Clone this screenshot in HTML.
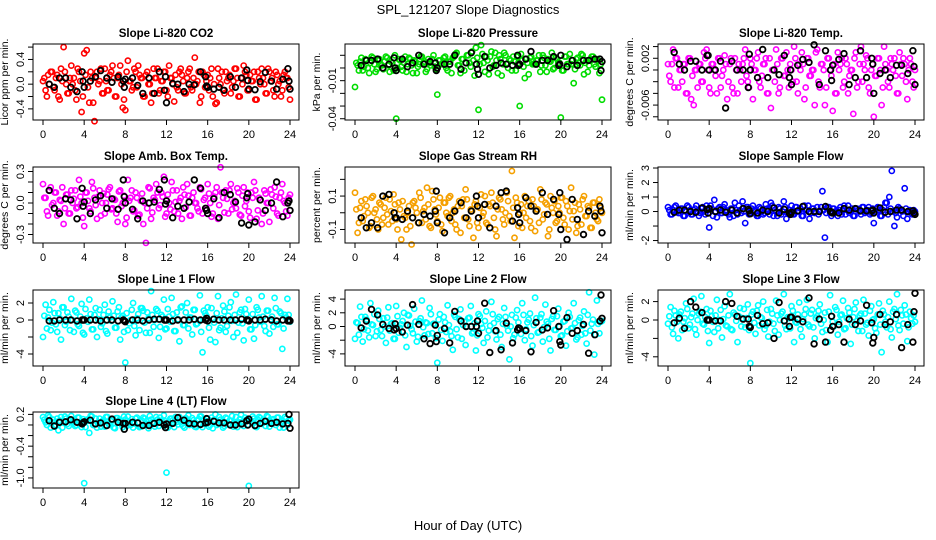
<!DOCTYPE html>
<html><head><meta charset="utf-8"><title>SPL_121207 Slope Diagnostics</title>
<style>
html,body{margin:0;padding:0;background:#fff;}
svg{display:block;font-family:"Liberation Sans",sans-serif;}
</style></head>
<body>
<svg id="chart" width="936" height="540" viewBox="0 0 936 540" xmlns="http://www.w3.org/2000/svg">
<rect x="0" y="0" width="936" height="540" fill="#fff"/>
<text x="468" y="14" text-anchor="middle" font-size="13">SPL_121207  Slope Diagnostics</text>
<text x="468" y="530" text-anchor="middle" font-size="13">Hour of Day (UTC)</text>
</svg>
<script>
const hoursC = [0,0.25,0.5,0.75,1,1.25,1.5,1.75,2,2.25,
2.5,2.75,3,3.25,3.5,3.75,4,4.25,4.5,4.75,
5,5.25,5.5,5.75,6,6.25,6.5,6.75,7,7.25,
7.5,7.75,8,8.25,8.5,8.75,9,9.25,9.5,9.75,
10,10.25,10.5,10.75,11,11.25,11.5,11.75,12,12.25,
12.5,12.75,13,13.25,13.5,13.75,14,14.25,14.5,14.75,
15,15.25,15.5,15.75,16,16.25,16.5,16.75,17,17.25,
17.5,17.75,18,18.25,18.5,18.75,19,19.25,19.5,19.75,
20,20.25,20.5,20.75,21,21.25,21.5,21.75,22,22.25,
22.5,22.75,23,23.25,23.5,23.75,24];
const hoursC2 = [0.125,0.375,0.625,0.875,1.125,1.375,1.625,1.875,2.125,2.375,2.625,2.875,
3.125,3.375,3.625,3.875,4.125,4.375,4.625,4.875,5.125,5.375,5.625,5.875,
6.125,6.375,6.625,6.875,7.125,7.375,7.625,7.875,8.125,8.375,8.625,8.875,
9.125,9.375,9.625,9.875,10.125,10.375,10.625,10.875,11.125,11.375,11.625,11.875,
12.125,12.375,12.625,12.875,13.125,13.375,13.625,13.875,14.125,14.375,14.625,14.875,
15.125,15.375,15.625,15.875,16.125,16.375,16.625,16.875,17.125,17.375,17.625,17.875,
18.125,18.375,18.625,18.875,19.125,19.375,19.625,19.875,20.125,20.375,20.625,20.875,
21.125,21.375,21.625,21.875,22.125,22.375,22.625,22.875,23.125,23.375,23.625,23.875];
const hoursK = [0.6,1.1,1.6,2.2,2.7,3.3,3.8,3.9,4.0,
4.6,5.1,5.6,6.2,6.7,7.3,7.8,7.9,8.0,
8.7,9.2,9.7,10.3,10.8,11.3,11.8,11.9,12.0,
12.6,13.1,13.7,14.2,14.7,15.3,15.8,15.9,16.0,
16.6,17.1,17.6,18.2,18.7,19.3,19.8,19.9,20.0,
20.6,21.1,21.6,22.2,22.7,23.3,23.8,23.9,24.0];
const xTicks = [0,4,8,12,16,20,24];

const co2Slope = [0.05,-0.1,0.15,0.2,-0.05,0.1,-0.2,0.25,0.6,0.0,
-0.15,0.3,0.1,-0.25,0.2,-0.45,0.5,0.55,-0.3,0.1,
-0.6,0.2,0.05,-0.15,0.25,-0.1,0.15,0.3,-0.2,0.1,
0.3,-0.38,-0.42,0.38,0.05,-0.05,0.2,0.3,0.1,-0.2,
0.15,0.0,-0.3,0.25,0.1,-0.15,0.05,0.2,-0.1,0.3,
0.1,-0.28,-0.05,0.2,0.15,-0.15,0.1,0.25,-0.1,0.43,
0.05,-0.3,0.2,-0.05,0.15,0.1,-0.2,-0.32,0.25,0.0,
-0.1,0.2,0.1,-0.15,0.05,0.25,-0.2,0.1,0.3,0.15,
-0.1,0.05,0.2,-0.25,0.1,0.25,0.0,-0.15,0.2,0.1,
-0.2,0.15,0.05,-0.1,0.2,0.1,-0.25];
const co2Slope2 = [0.1,-0.2,0.0,0.2,-0.1,0.15,-0.25,0.05,0.2,-0.15,0.1,0.0,
-0.1,0.25,0.05,-0.2,0.15,-0.05,0.2,-0.3,0.1,0.0,0.25,-0.15,
0.05,-0.1,0.2,0.1,-0.2,0.15,0.0,-0.25,0.2,0.05,-0.1,0.25,
-0.05,0.15,0.1,-0.2,0.2,0.0,-0.15,0.1,0.25,-0.1,0.05,0.2,
-0.2,0.1,0.0,0.15,-0.1,0.25,0.05,-0.15,0.2,-0.05,0.1,0.0,
0.2,-0.2,0.15,0.05,-0.1,0.25,0.0,-0.3,0.1,0.2,-0.15,0.05,
0.15,-0.05,0.25,0.1,-0.2,0.0,0.2,-0.1,0.15,0.05,-0.25,0.2,
0.0,0.1,-0.15,0.25,0.05,-0.1,0.2,0.0,-0.2,0.15,0.1,-0.05];
const co2Black = [0.0,-0.05,0.1,0.1,-0.05,-0.12,0.2,0.05,-0.05,
0.05,0.12,0.22,0.1,0.03,0.12,0.05,-0.05,0.08,
0.1,-0.02,-0.15,0.1,-0.15,0.2,-0.1,0.12,-0.3,
0.01,0.0,-0.12,0.0,-0.01,0.2,0.12,-0.03,-0.05,
-0.08,-0.05,-0.1,0.12,-0.05,0.1,0.23,0.06,-0.08,
-0.09,0.04,0.19,0.05,-0.08,0.08,0.25,0.05,-0.08];

const pressSlope = [-0.015,0.002,0.005,-0.002,0.007,0.0,0.004,0.008,-0.003,0.006,
0.003,-0.001,0.009,0.002,0.005,-0.002,-0.04,0.007,0.001,0.004,
-0.003,0.008,0.002,0.006,-0.004,0.003,0.009,0.005,-0.001,0.004,
0.007,0.001,-0.021,0.006,0.003,0.009,-0.002,0.005,0.008,0.011,
0.002,-0.004,0.007,0.004,0.01,0.001,0.006,0.016,-0.033,0.018,
0.004,0.009,-0.005,0.013,0.002,0.006,0.01,-0.006,0.012,0.003,
0.007,-0.002,0.005,0.009,-0.03,0.006,-0.008,0.004,0.008,0.003,
0.003,0.006,-0.003,0.01,0.002,0.007,0.005,-0.001,0.008,0.004,
-0.039,-0.002,0.009,0.003,0.003,-0.012,0.007,0.004,0.011,-0.005,
0.006,0.002,0.009,0.003,0.007,-0.004,-0.025];
const pressSlope2 = [0.004,-0.002,0.008,0.001,0.006,-0.004,0.009,0.003,-0.001,0.007,0.002,0.005,
0.008,-0.003,0.004,0.01,0.0,0.006,-0.002,0.009,0.003,0.007,-0.004,0.005,
0.001,0.009,0.004,-0.003,0.007,0.002,0.01,-0.001,0.006,0.003,0.008,0.0,
0.005,-0.004,0.009,0.012,0.002,0.007,-0.002,0.01,0.004,0.013,-0.006,0.008,
0.003,0.011,-0.003,0.006,0.009,0.001,0.012,-0.004,0.007,0.003,0.01,0.0,
0.006,0.009,-0.002,0.004,0.011,0.001,0.007,-0.005,0.009,0.003,0.006,0.01,
0.002,0.008,-0.003,0.005,0.012,0.0,0.007,0.004,-0.002,0.009,0.003,0.011,
0.006,-0.001,0.008,0.002,0.01,0.004,-0.003,0.007,0.009,0.001,0.006,0.003];
const pressBlack = [0.002,0.006,0.006,0.007,0.0,0.003,0.008,0.0,-0.002,
0.007,0.001,0.004,0.01,0.003,0.005,0.004,-0.002,0.0,
0.003,0.003,0.01,-0.001,0.004,0.012,0.003,-0.001,-0.005,
0.009,0.0,0.002,0.004,0.003,0.002,0.01,0.002,0.003,
0.007,0.013,0.003,0.006,0.006,0.009,0.002,0.003,0.01,
0.001,0.006,0.002,0.006,0.006,0.007,0.007,-0.002,0.005];

const tempSlope = [0.001,-0.002,0.0035,0.002,-0.003,0.0,0.001,-0.004,0.002,-0.005,
-0.006,0.0,0.001,-0.002,0.003,0.0035,-0.003,0.001,0.0,-0.004,
0.002,-0.001,0.0025,-0.005,0.001,-0.003,0.002,-0.004,0.0,0.001,
0.0035,-0.002,0.002,-0.005,0.0,0.003,-0.003,0.001,0.002,-0.004,
-0.0065,0.0,0.0035,-0.004,0.002,-0.001,0.003,-0.003,0.0,0.004,
-0.002,0.001,0.003,-0.005,0.002,-0.001,0.0,-0.006,0.0035,-0.003,
0.001,-0.006,0.002,0.0,-0.007,-0.004,0.003,0.001,-0.003,0.002,
-0.004,0.0,-0.0075,0.003,-0.002,0.004,0.001,0.0025,-0.003,0.0,
-0.008,-0.001,0.002,-0.006,0.004,0.0,-0.003,0.001,0.002,-0.004,
0.003,-0.001,0.001,-0.005,0.002,-0.002,0.0];
const tempSlope2 = [-0.001,0.001,-0.003,0.002,0.0,-0.002,0.001,-0.004,0.002,-0.001,0.0,-0.003,
0.001,-0.002,0.002,0.0,-0.004,0.001,-0.001,0.002,-0.003,0.0,0.001,-0.002,
0.002,-0.004,0.0,0.001,-0.002,0.002,-0.001,-0.003,0.001,0.0,0.002,-0.002,
-0.001,0.001,-0.004,0.002,0.0,-0.002,0.001,-0.003,0.002,-0.001,0.0,0.001,
-0.002,0.002,-0.004,0.0,0.001,-0.003,0.002,-0.001,0.0,0.003,-0.002,0.001,
0.0,-0.003,0.002,-0.001,0.001,-0.004,0.0,0.002,-0.002,0.001,-0.001,0.0,
0.002,-0.003,0.001,-0.002,0.0,0.002,-0.004,0.001,-0.001,0.002,0.0,-0.003,
0.001,-0.002,0.002,0.0,-0.001,-0.004,0.001,0.002,-0.002,0.0,0.001,-0.003];
const tempBlack = [0.003,0.001,0.0,0.0015,0.0015,0.0,0.0025,0.0025,0.0,
0.0,0.0015,-0.0065,0.0015,0.0,0.0,-0.003,0.0027,0.0,
-0.0013,0.0035,-0.0013,0.0,-0.0008,0.0025,-0.0013,0.0,-0.0025,
0.0008,0.0018,0.0013,0.0043,-0.0025,0.0033,0.0,-0.0018,0.0008,
0.0018,0.0028,-0.0025,-0.0013,0.0033,-0.0013,0.002,0.001,-0.004,
-0.0006,0.0,-0.0013,0.0008,0.0008,-0.0006,0.0033,0.0006,-0.0025];

const ambSlope = [0.18,0.05,-0.12,0.15,0.0,0.1,-0.08,0.02,-0.2,0.08,
-0.1,0.12,0.04,-0.05,0.22,0.0,-0.22,0.1,-0.05,0.2,
0.05,-0.15,0.12,0.0,-0.1,0.08,0.15,-0.05,0.03,-0.18,
0.12,0.0,-0.2,0.22,0.05,-0.08,0.1,-0.12,0.02,-0.2,
-0.38,0.15,-0.15,0.05,0.18,-0.05,0.1,0.25,-0.1,0.0,
0.2,-0.08,0.12,0.02,-0.15,0.08,0.18,-0.12,0.05,0.0,
-0.05,0.15,-0.1,0.05,0.18,0.0,-0.1,0.1,-0.15,0.34,
0.05,0.12,-0.1,0.18,0.0,-0.05,0.1,-0.12,0.15,0.02,
-0.08,0.1,0.2,-0.15,0.05,-0.2,0.12,0.0,-0.18,0.08,
0.15,-0.1,0.05,0.18,0.0,-0.12,0.08];
const ambSlope2 = [0.05,-0.08,0.12,-0.02,0.1,-0.12,0.03,0.15,-0.05,0.08,-0.1,0.0,
0.12,-0.04,0.06,-0.14,0.1,0.02,-0.08,0.14,-0.02,0.06,-0.12,0.09,
0.0,0.13,-0.06,0.04,-0.1,0.11,-0.03,0.07,-0.14,0.02,0.12,-0.07,
0.05,-0.11,0.09,0.0,-0.05,0.14,-0.09,0.03,0.1,-0.02,0.06,-0.13,
0.08,-0.06,0.12,0.01,-0.1,0.05,0.15,-0.04,0.07,-0.12,0.1,0.0,
-0.08,0.13,0.03,-0.05,0.09,-0.13,0.06,0.15,-0.02,0.1,-0.09,0.04,
0.12,-0.06,0.02,0.14,-0.11,0.07,-0.03,0.1,-0.14,0.05,0.12,-0.07,
0.03,-0.1,0.09,0.0,0.13,-0.05,0.06,-0.12,0.1,0.02,-0.08,0.05];
const ambBlack = [0.12,-0.05,-0.1,0.04,0.03,-0.15,0.14,-0.03,0.01,
-0.1,0.03,0.07,-0.05,0.04,-0.06,0.22,0.06,0.0,
-0.06,-0.15,0.02,0.0,0.01,0.13,0.22,-0.01,0.02,
-0.14,-0.03,-0.05,0.01,0.22,0.14,-0.05,-0.07,-0.1,
0.04,-0.14,0.1,0.08,0.01,-0.19,0.05,0.09,-0.21,
-0.18,0.03,-0.07,0.0,0.2,-0.13,0.0,0.02,-0.07];

const rhSlope = [0.12,-0.12,0.03,-0.05,0.08,0.0,-0.08,0.1,0.02,-0.1,
0.05,-0.03,0.09,-0.07,0.01,0.11,-0.04,0.06,-0.16,-0.02,
-0.1,0.04,-0.19,0.07,0.0,0.12,-0.06,0.03,0.15,-0.08,
0.13,0.02,-0.05,0.09,-0.11,0.06,-0.02,0.1,0.0,-0.07,
0.04,-0.12,0.08,0.14,-0.04,0.02,-0.15,0.07,-0.09,0.11,
0.0,-0.06,0.05,0.12,-0.03,-0.14,0.09,0.02,-0.07,0.12,
-0.02,0.25,-0.15,0.06,0.0,-0.09,0.1,0.04,-0.05,0.08,
-0.11,0.02,0.14,-0.04,0.06,-0.14,0.1,0.0,-0.06,0.04,
0.09,-0.03,0.07,-0.1,0.15,0.01,-0.12,0.05,-0.07,0.1,
-0.02,0.03,-0.09,0.06,-0.04,0.08,0.0];
const rhSlope2 = [0.02,-0.06,0.07,-0.02,0.04,-0.09,0.09,0.0,-0.04,0.06,-0.07,0.03,
-0.01,0.08,-0.05,0.05,-0.1,0.02,0.07,-0.03,0.0,-0.08,0.06,0.03,
-0.06,0.09,0.01,-0.04,0.05,-0.09,0.08,-0.01,0.03,-0.07,0.06,0.0,
0.09,-0.05,0.02,-0.1,0.07,0.04,-0.03,0.08,-0.08,0.01,0.05,-0.06,
0.03,-0.02,0.1,-0.07,0.04,0.06,-0.1,0.02,0.08,-0.04,0.0,0.07,
-0.05,0.03,0.09,-0.08,0.05,0.0,-0.03,0.07,-0.09,0.04,0.02,-0.06,
0.08,-0.01,0.05,-0.1,0.03,0.07,-0.05,0.0,0.09,-0.07,0.04,0.01,
-0.04,0.06,-0.08,0.02,0.08,-0.02,0.04,-0.09,0.06,0.0,-0.05,0.03];
const rhBlack = [-0.03,-0.09,-0.06,-0.09,0.1,0.11,0.0,-0.03,-0.03,
-0.04,0.01,-0.03,-0.06,-0.01,-0.02,0.01,0.13,-0.06,
-0.12,-0.03,0.01,0.06,-0.03,0.01,0.1,0.04,-0.03,
0.05,-0.09,0.04,0.12,0.13,-0.05,0.03,-0.01,-0.06,
0.09,0.04,0.01,0.12,-0.01,0.08,-0.01,0.12,-0.1,
-0.16,0.08,-0.04,-0.13,0.01,-0.02,0.04,0.01,-0.12];

const sampleSlope = [0.3,-0.2,0.1,0.4,-0.1,0.2,-0.3,0.0,0.3,-0.2,
0.1,0.4,-0.3,0.2,0.0,0.4,-1.1,0.2,0.8,-0.4,
0.3,-0.1,0.5,0.0,-0.4,0.2,0.6,-0.2,0.1,0.7,
-0.8,0.3,-0.1,0.4,0.0,-0.3,0.2,-0.2,0.5,0.1,
0.6,-0.3,0.0,0.3,-0.2,0.7,-0.5,0.1,0.4,-0.2,
0.3,0.0,-0.3,0.4,0.1,-0.5,0.2,-0.1,0.3,0.0,
1.4,-1.8,0.3,-0.1,0.2,0.0,-0.3,0.3,0.1,-0.2,
0.4,0.0,-0.3,0.2,0.1,-0.2,0.3,0.0,0.3,-0.1,
-0.8,0.2,0.1,-0.3,0.3,0.6,1.0,2.8,-1.0,-0.4,
0.2,0.0,1.6,-0.5,0.1,-0.2,0.0];
const sampleSlope2 = [0.1,-0.2,0.3,0.0,-0.1,0.2,-0.3,0.4,0.1,-0.2,0.2,0.0,
-0.1,0.3,-0.2,0.1,0.4,-0.3,0.0,0.2,-0.1,0.3,0.1,-0.2,
0.2,-0.3,0.1,0.4,-0.1,0.0,0.3,-0.2,0.2,0.1,-0.3,0.3,
0.0,-0.1,0.2,-0.2,0.4,0.1,-0.3,0.2,0.0,0.3,-0.1,0.1,
-0.2,0.3,0.0,0.2,-0.3,0.1,0.4,-0.1,0.2,0.0,-0.2,0.3,
0.1,-0.1,0.3,-0.3,0.2,0.0,0.1,-0.2,0.4,0.1,-0.1,0.2,
-0.3,0.2,0.0,0.3,-0.1,0.1,-0.2,0.2,0.0,0.3,-0.3,0.1,
0.6,-0.2,0.2,0.0,-0.1,0.3,0.1,-0.3,0.2,0.0,-0.1,0.1];
const sampleBlack = [-0.05,0.1,0.1,0.0,-0.05,0.25,0.15,-0.1,0.2,
0.0,0.1,-0.05,0.1,-0.1,0.2,0.15,0.05,-0.15,
-0.1,0.1,0.0,0.25,-0.1,0.15,-0.1,-0.2,-0.05,
0.05,0.35,0.0,0.0,0.0,0.35,0.0,-0.05,-0.1,
-0.1,0.2,0.1,0.2,0.05,0.05,0.05,0.1,-0.1,
0.25,-0.05,0.0,0.1,0.1,0.0,0.05,-0.1,-0.2];

const line1Slope = [-2,1.8,0.3,-1.2,2.1,-0.5,0.8,-2.3,1.5,-0.2,
0.4,2.5,-1.4,0.9,-0.7,1.9,-1.7,0.2,2.4,-1.1,
0.6,-2.0,1.2,-0.4,1.8,-1.6,0.3,2.2,-0.9,1.0,
-2.3,0.5,-5.0,-1.2,0.0,2.0,-1.8,0.7,1.4,1.1,
-1.5,0.2,3.4,-0.8,1.3,-2.1,0.6,2.4,-1.0,0.4,
2.6,-1.3,0.9,-2.5,1.6,-0.6,2.0,0.3,-1.7,1.2,
-0.4,2.9,-3.8,0.8,1.5,-2.3,0.1,-2.6,2.8,-0.9,
1.7,-1.4,0.5,2.1,-2.0,3.0,-0.3,1.2,-2.4,0.7,
2.4,-1.1,-2.2,1.5,0.3,2.8,-0.7,1.1,-1.6,0.4,
2.6,-0.5,1.0,-3.4,0.6,2.5,-0.2];
const line1Slope2 = [0.5,-1.0,1.2,-0.3,0.8,-1.4,0.2,1.5,-0.6,0.9,-1.2,0.0,
1.1,-0.5,0.4,-1.5,1.3,-0.2,0.7,-1.1,1.4,0.1,-0.8,0.6,
-1.3,1.0,-0.1,0.5,-0.9,1.5,0.3,-1.4,0.8,-0.4,1.2,-0.7,
0.2,-1.2,1.4,-0.3,0.9,-1.5,0.6,0.0,1.1,-0.8,0.4,-1.1,
1.3,-0.2,0.7,-1.3,0.1,1.5,-0.6,0.9,-1.0,0.3,1.2,-0.5,
0.0,-1.4,1.1,0.5,-0.9,1.4,-0.3,0.8,-1.2,0.2,1.0,-0.7,
1.5,-0.1,0.6,-1.5,0.9,-0.4,1.3,0.0,-1.1,0.7,-0.6,1.2,
-0.2,0.4,-1.3,1.1,0.1,-0.8,1.4,-0.5,0.8,-1.0,0.3,0.6];
const line1Black = [-0.1,-0.1,0.0,0.0,0.0,-0.1,0.0,0.0,0.0,
0.0,0.0,-0.1,0.0,0.0,-0.1,0.0,-0.1,-0.2,
0.0,0.0,-0.1,0.0,0.1,0.1,0.0,0.0,0.0,
-0.1,0.0,0.0,0.0,0.1,0.0,0.0,0.2,-0.1,
0.1,0.0,0.0,0.0,0.0,0.1,0.0,0.0,-0.1,
0.0,0.0,0.1,0.0,-0.1,0.0,-0.1,0.0,-0.1];

const line2Slope = [-1.8,0.5,2.9,-2.2,1.4,-0.6,3.4,0.2,-1.4,2.3,
-0.5,1.2,-2.4,2.8,0.4,-1.8,3.0,-0.9,0.3,2.0,
-3.0,1.6,-0.4,2.6,-2.2,0.8,3.8,-1.3,0.5,2.7,
-1.0,0.3,-5.3,1.8,-2.1,0.6,3.1,-0.7,-3.4,1.4,
-1.6,2.5,0.2,-2.7,1.2,3.0,-0.8,-3.5,1.8,0.4,
-2.4,2.2,-0.6,3.6,0.5,-1.9,1.4,-3.0,2.7,0.1,
-4.8,1.7,-1.2,2.4,-0.3,3.4,-2.0,0.6,1.9,-2.8,
4.2,-0.9,1.3,-2.2,3.2,0.4,-3.5,1.5,-0.5,2.6,
-1.4,0.7,-2.8,2.0,-0.3,3.4,-1.9,0.9,-1.2,2.2,
-2.5,5.0,0.4,-4.1,3.8,-1.0,0.8];
const line2Slope2 = [0.6,-1.2,1.4,-0.4,1.0,-1.6,0.3,1.8,-0.7,1.1,-1.4,0.0,
1.3,-0.6,0.5,-1.8,1.5,-0.2,0.8,-1.3,1.7,0.1,-1.0,0.7,
-1.5,1.2,-0.1,0.6,-1.1,1.8,0.4,-1.7,1.0,-0.5,1.4,-0.8,
0.2,-1.4,1.7,-0.4,1.1,-1.8,0.7,0.0,1.3,-1.0,0.5,-1.3,
1.5,-0.2,0.8,-1.6,0.1,1.8,-0.7,1.1,-1.2,0.4,1.4,-0.6,
0.0,-1.7,1.3,0.6,-1.1,1.7,-0.4,1.0,-1.4,0.2,1.2,-0.8,
1.8,-0.1,0.7,-1.8,1.1,-0.5,1.5,0.0,-1.3,0.8,-0.7,1.4,
-0.2,0.5,-1.6,1.3,0.1,-1.0,1.7,-0.6,1.0,-1.2,0.4,0.7];
const line2Black = [-0.2,0.8,2.5,1.7,0.3,-0.3,-0.5,0.4,-0.3,
-0.8,0.2,3.2,0.3,-1.8,-2.5,0.2,-2.2,-1.3,
-0.3,-2.4,2.2,0.8,0.0,0.0,0.0,0.8,-1.0,
3.4,-3.8,-0.6,-3.4,0.5,-2.4,-0.5,-0.2,-0.3,
-0.6,-3.7,0.6,-0.5,-0.2,2.3,0.0,-2.2,-2.7,
1.3,-1.0,-0.6,0.3,-3.9,-1.2,0.8,4.6,1.2];

const line3Slope = [-0.4,1.4,-1.5,0.5,-2.0,0.9,-0.2,1.8,-0.9,0.3,
2.3,-1.6,0.7,2.6,-0.5,1.2,-2.5,0.4,-1.3,2.2,
0.0,-1.9,1.5,-0.7,2.8,-1.1,0.6,-2.4,1.3,0.2,
-0.8,1.7,-4.7,0.9,-1.5,1.6,0.3,2.0,-0.6,-1.8,
1.2,-0.4,2.1,-1.6,0.7,2.8,-1.0,0.2,1.5,-2.4,
-0.3,1.9,-1.8,0.6,2.2,-0.7,1.1,-2.0,0.4,1.7,
-1.3,0.8,-2.4,2.7,-0.2,1.4,-1.6,0.5,2.1,-0.9,
1.3,-2.6,0.3,1.9,-1.2,0.7,2.2,-0.5,-1.7,1.5,
0.1,-1.4,1.8,-3.5,0.6,-0.8,2.0,-1.9,1.2,2.8,
-1.1,0.5,1.6,-2.3,0.9,-0.4,-0.2];
const line3Slope2 = [0.4,-0.8,1.0,-0.2,0.6,-1.1,0.2,1.2,-0.5,0.7,-1.0,0.0,
0.9,-0.4,0.3,-1.2,1.0,-0.2,0.5,-0.9,1.1,0.1,-0.6,0.5,
-1.0,0.8,-0.1,0.4,-0.7,1.2,0.2,-1.1,0.6,-0.3,1.0,-0.6,
0.2,-1.0,1.1,-0.2,0.7,-1.2,0.5,0.0,0.9,-0.6,0.3,-0.9,
1.0,-0.2,0.6,-1.0,0.1,1.2,-0.5,0.7,-0.8,0.2,1.0,-0.4,
0.0,-1.1,0.9,0.4,-0.7,1.1,-0.2,0.6,-1.0,0.2,0.8,-0.5,
1.2,-0.1,0.5,-1.2,0.7,-0.3,1.0,0.0,-0.9,0.6,-0.5,1.0,
-0.2,0.3,-1.0,0.9,0.1,-0.6,1.1,-0.4,0.6,-0.8,0.2,0.5];
const line3Black = [-0.3,0.2,-0.9,2.0,1.4,0.8,0.0,0.0,0.0,
-0.1,-0.1,2.0,1.8,0.4,0.1,0.1,-0.7,-0.8,
0.5,-0.4,-0.3,-2.0,1.9,-0.1,-0.7,0.3,0.3,
0.1,-0.2,2.4,-2.6,0.1,-2.4,-1.1,0.4,-0.7,
-0.5,-2.4,0.1,-0.5,-0.1,1.6,-0.3,-2.5,-1.9,
0.6,-0.5,-0.2,0.6,-3.0,-0.5,-2.4,0.9,2.9];

const line4Slope = [0.15,0.05,0.18,-0.05,0.1,0.0,-0.1,0.15,0.05,0.12,
-0.02,0.17,0.08,0.0,0.14,-0.04,-1.1,0.1,-0.15,0.16,
0.02,-0.05,0.12,0.06,-0.03,0.15,0.0,0.1,-0.06,0.13,
0.04,-0.04,0.1,0.16,0.0,-0.05,0.12,0.05,-0.03,0.14,
0.02,-0.06,0.1,0.05,0.15,-0.02,0.08,0.18,-0.9,0.0,
0.12,-0.04,0.06,0.15,0.02,-0.05,0.1,0.0,0.13,-0.03,
0.08,0.16,-0.04,0.05,0.12,0.0,-0.06,0.2,0.03,0.1,
-0.05,0.14,0.02,0.08,-0.03,0.15,0.05,0.19,-0.02,0.1,
-1.15,0.06,0.12,-0.04,0.15,0.02,0.08,0.17,-0.03,0.1,
0.05,0.14,-0.05,0.08,0.15,0.0,0.1];
const line4Slope2 = [0.1,0.0,0.15,0.05,-0.03,0.12,0.08,-0.05,0.16,0.02,0.1,0.06,
-0.02,0.14,0.04,0.11,-0.04,0.08,0.17,0.0,0.12,0.05,-0.03,0.1,
0.15,0.02,0.07,-0.05,0.13,0.09,0.01,0.16,-0.02,0.06,0.11,0.03,
0.14,-0.04,0.08,0.12,0.0,0.17,0.05,-0.03,0.1,0.14,0.02,0.07,
-0.05,0.12,0.09,0.15,0.01,0.06,-0.02,0.13,0.18,0.04,0.09,-0.04,
0.11,0.16,0.02,0.07,-0.03,0.14,0.1,0.0,0.15,0.05,-0.02,0.12,
0.08,0.17,0.03,-0.04,0.11,0.06,0.14,0.0,0.09,0.16,-0.03,0.1,
0.13,0.04,-0.02,0.15,0.07,0.11,0.0,0.14,0.05,-0.05,0.12,0.08];
const line4Black = [0.08,-0.02,0.05,0.06,0.1,0.05,0.02,0.04,0.06,
0.09,0.02,0.04,-0.01,0.11,0.05,0.03,-0.08,0.03,
0.05,0.04,-0.01,-0.01,0.03,0.05,0.0,-0.05,0.02,
0.03,0.14,0.09,0.03,0.02,0.01,0.04,0.12,0.05,
0.07,0.04,0.04,0.0,0.0,0.02,0.08,0.0,0.11,
-0.01,0.03,0.07,0.03,0.05,0.02,0.03,0.2,-0.06];

const co2Ticks = [-0.4,-0.2,0,0.2,0.4,0.6];
const co2TickLabels = ["-0.4","","0.0","","0.4",""];
const pressTicks = [-0.04,-0.03,-0.02,-0.01,0,0.01];
const pressTickLabels = ["-0.04","","","-0.01","",""];
const tempTicks = [-0.008,-0.006,-0.004,-0.002,0,0.002,0.004];
const tempTickLabels = ["","-0.006","","","","0.002",""];
const ambTicks = [-0.3,-0.2,-0.1,0,0.1,0.2,0.3];
const ambTickLabels = ["-0.3","","","0.0","","","0.3"];
const rhTicks = [-0.1,0,0.1,0.2];
const rhTickLabels = ["-0.1","","0.1",""];
const sampleTicks = [-2,-1,0,1,2,3];
const sampleTickLabels = ["-2","","0","1","2","3"];
const line1Ticks = [-4,-2,0,2];
const line1TickLabels = ["-4","","0","2"];
const line2Ticks = [-4,-2,0,2,4];
const line2TickLabels = ["-4","","0","2","4"];
const line3Ticks = [-4,-2,0,2];
const line3TickLabels = ["-4","","0","2"];
const line4Ticks = [-1.0,-0.8,-0.6,-0.4,-0.2,0,0.2];
const line4TickLabels = ["-1.0","","","-0.4","","","0.2"];

const NS = "http://www.w3.org/2000/svg";
const svg = document.getElementById("chart");
function mk(tag, attrs, parent){
  const e = document.createElementNS(NS, tag);
  for (const k in attrs) e.setAttribute(k, attrs[k]);
  (parent||svg).appendChild(e);
  return e;
}
const colLeft = [33,345,658];
const rowTop = [44,167,290,412];
const boxW = 266, boxH = 76;

const panels = [
 {key:"co2", title:"Slope Li-820 CO2", ylab:"Licor ppm per min.", col:0,row:0, ymin:-0.58, ymax:0.65, ticks:co2Ticks, labels:co2TickLabels, vals:co2Slope, vals2:co2Slope2, black:co2Black, color:"#ff0000"},
 {key:"pressure", title:"Slope Li-820 Pressure", ylab:"kPa per min.", col:1,row:0, ymin:-0.041, ymax:0.0189, ticks:pressTicks, labels:pressTickLabels, vals:pressSlope, vals2:pressSlope2, black:pressBlack, color:"#00dd00"},
 {key:"temp", title:"Slope Li-820 Temp.", ylab:"degrees C per min.", col:2,row:0, ymin:-0.00855, ymax:0.00444, ticks:tempTicks, labels:tempTickLabels, vals:tempSlope, vals2:tempSlope2, black:tempBlack, color:"#ff00ff"},
 {key:"amb-box-temp", title:"Slope Amb. Box Temp.", ylab:"degrees C per min.", col:0,row:1, ymin:-0.381, ymax:0.343, ticks:ambTicks, labels:ambTickLabels, vals:ambSlope, vals2:ambSlope2, black:ambBlack, color:"#ff00ff"},
 {key:"gas-rh", title:"Slope Gas Stream RH", ylab:"percent per min.", col:1,row:1, ymin:-0.181, ymax:0.274, ticks:rhTicks, labels:rhTickLabels, vals:rhSlope, vals2:rhSlope2, black:rhBlack, color:"#f5a000"},
 {key:"sample-flow", title:"Slope Sample Flow", ylab:"ml/min per min.", col:2,row:1, ymin:-2.17, ymax:3.07, ticks:sampleTicks, labels:sampleTickLabels, vals:sampleSlope, vals2:sampleSlope2, black:sampleBlack, color:"#0000ff"},
 {key:"line1-flow", title:"Slope Line 1 Flow", ylab:"ml/min per min.", col:0,row:2, ymin:-5.41, ymax:3.53, ticks:line1Ticks, labels:line1TickLabels, vals:line1Slope, vals2:line1Slope2, black:line1Black, color:"#00ffff"},
 {key:"line2-flow", title:"Slope Line 2 Flow", ylab:"ml/min per min.", col:1,row:2, ymin:-5.77, ymax:5.33, ticks:line2Ticks, labels:line2TickLabels, vals:line2Slope, vals2:line2Slope2, black:line2Black, color:"#00ffff"},
 {key:"line3-flow", title:"Slope Line 3 Flow", ylab:"ml/min per min.", col:2,row:2, ymin:-5.0, ymax:3.26, ticks:line3Ticks, labels:line3TickLabels, vals:line3Slope, vals2:line3Slope2, black:line3Black, color:"#00ffff"},
 {key:"line4-flow", title:"Slope Line 4 (LT) Flow", ylab:"ml/min per min.", col:0,row:3, ymin:-1.19, ymax:0.245, ticks:line4Ticks, labels:line4TickLabels, vals:line4Slope, vals2:line4Slope2, black:line4Black, color:"#00ffff"}
];

panels.forEach(p => {
  const L = colLeft[p.col], T = rowTop[p.row];
  const g = mk("g", {});
  
  
  const xs = h => L + 10 + h * (247 / 24);
  const ys = v => T + (p.ymax - v) / (p.ymax - p.ymin) * boxH;

  const t = mk("text", {x: L + boxW/2, y: T - 7, "text-anchor":"middle", "font-size":"11.5", "font-weight":"bold"}, g);
  t.textContent = p.title;
  
  

  const yl = mk("text", {x:0, y:0, "text-anchor":"middle", "font-size":"10.5", transform:`translate(${L-25},${T+boxH/2}) rotate(-90)`}, g);
  yl.textContent = p.ylab;
  
  

  const cg = mk("g", {fill:"none", stroke:p.color, "stroke-width":"1.6"}, g);
  
  
  const n = Math.min(hoursC.length, p.vals.length);
  for (let i = 0; i < n; i++) {
    const c = mk("circle", {cx: xs(hoursC[i]).toFixed(1), cy: ys(p.vals[i]).toFixed(1), r: "2.6"}, cg);
    
    
  }
  const n2 = Math.min(hoursC2.length, p.vals2.length);
  for (let i = 0; i < n2; i++) {
    const c = mk("circle", {cx: xs(hoursC2[i]).toFixed(1), cy: ys(p.vals2[i]).toFixed(1), r: "2.6"}, cg);
    
    
  }
  const kg = mk("g", {fill:"none", stroke:"#000", "stroke-width":"1.8"}, g);
  
  
  const m = Math.min(hoursK.length, p.black.length);
  for (let i = 0; i < m; i++) {
    const c = mk("circle", {cx: xs(hoursK[i]).toFixed(1), cy: ys(p.black[i]).toFixed(1), r: "2.8"}, kg);
    
    
  }

  const box = mk("rect", {x:L, y:T, width:boxW, height:boxH, fill:"none", stroke:"#000", "stroke-width":"1"}, g);
  
  

  const xa = mk("g", {}, g);
  
  
  mk("line", {x1:xs(xTicks[0]), x2:xs(xTicks[xTicks.length-1]), y1:T+boxH, y2:T+boxH, stroke:"#000"}, xa);
  xTicks.forEach(h => {
    mk("line", {x1:xs(h), x2:xs(h), y1:T+boxH, y2:T+boxH+5, stroke:"#000"}, xa);
    const tl = mk("text", {x:xs(h), y:T+boxH+18, "text-anchor":"middle", "font-size":"11"}, xa);
    tl.textContent = String(h);
    
    
  });

  const ya = mk("g", {}, g);
  
  
  mk("line", {x1:L, x2:L, y1:ys(p.ticks[0]), y2:ys(p.ticks[p.ticks.length-1]), stroke:"#000"}, ya);
  p.ticks.forEach((v, i) => {
    mk("line", {x1:L-5, x2:L, y1:ys(v), y2:ys(v), stroke:"#000"}, ya);
    if (p.labels[i]) {
      const tl = mk("text", {x:0, y:0, "text-anchor":"middle", "font-size":"11", transform:`translate(${L-9},${ys(v).toFixed(1)}) rotate(-90)`}, ya);
      tl.textContent = p.labels[i];
      
      
    }
  });
});
</script>
</body></html>
